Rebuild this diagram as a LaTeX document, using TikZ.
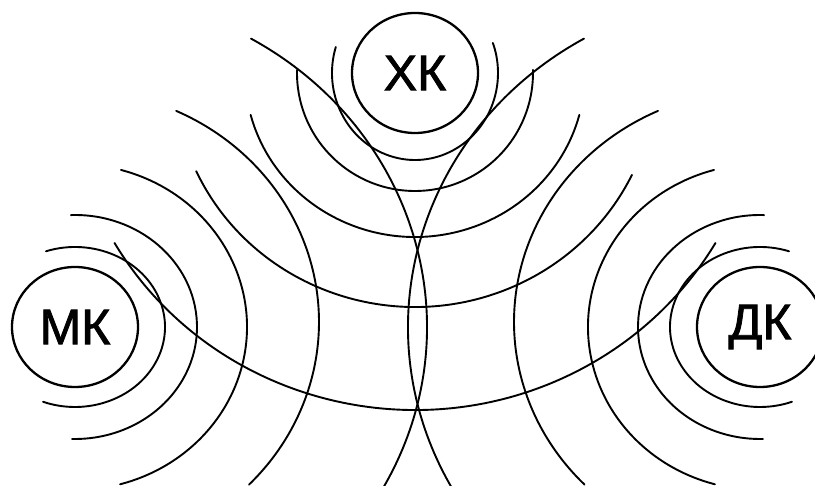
\documentclass[tikz,border=0pt]{standalone}
\usepackage{fontspec}
\setmainfont{Liberation Sans}
\newfontfamily\lblfont[FakeBold=1.6]{Liberation Sans}
\usetikzlibrary{shapes.geometric}
\newcommand{\wavearc}[5]{\draw[wave] ([shift={(#2:#4 and #5)}]#1) arc[start angle=#2, end angle=#3, x radius=#4, y radius=#5];}
\begin{document}
\begin{tikzpicture}[x=1pt,y=-1pt,
  ring/.style={draw, line width=2.3pt, ellipse, inner sep=0pt,
    minimum width=126pt, minimum height=120pt,
    font=\lblfont\fontsize{50}{50}\selectfont},
  wave/.style={line width=1.9pt, line cap=round}]
\clip (0,0) rectangle (815,486);
\node[ring] (xk) at (415,73) {ХК};
\node[ring] (mk) at (75,327) {МК};
\node[ring] (dk) at (760,327) {ДК};
\coordinate (mkd) at (75,322);
\coordinate (dkd) at (760,322);
% waves of XK
\wavearc{xk.center}{197.4}{-20.2}{83}{87}
\wavearc{xk.center}{181.5}{-1.5}{118}{118}
\wavearc{xk.center}{165.2}{14.8}{170}{164}
\wavearc{xk.center}{155.2}{25.8}{241}{234}
\wavearc{xk.center}{149.7}{30.3}{348}{337}
% waves of MK
\wavearc{mk.center}{-108.8}{110.8}{90}{80}
\wavearc{mk.center}{-91.9}{91.4}{122}{112}
\wavearc{mk.center}{-74.5}{74.8}{172}{163}
\wavearc{mkd}{-65.5}{44.5}{244}{232}
\wavearc{mk.center}{-60}{28.6}{352}{333}
% waves of DK
\wavearc{dk.center}{288.8}{69.2}{90}{80}
\wavearc{dk.center}{271.9}{88.6}{122}{112}
\wavearc{dk.center}{254.5}{105.2}{172}{163}
\wavearc{dkd}{245.5}{135.5}{246}{232}
\wavearc{dk.center}{240}{151.4}{352}{333}
\end{tikzpicture}
\end{document}
